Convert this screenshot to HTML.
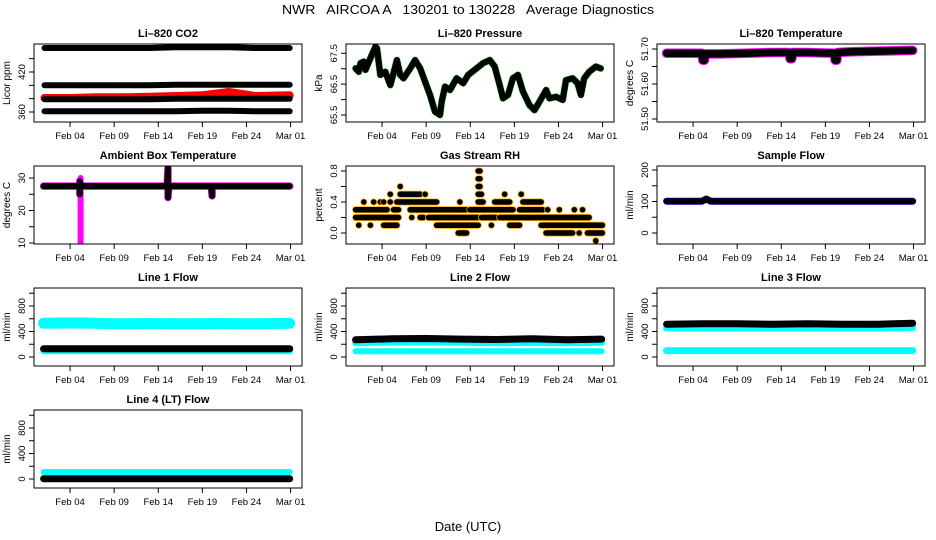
<!DOCTYPE html>
<html><head><meta charset="utf-8"><style>
body{margin:0;background:#fff}
svg{display:block;font-family:"Liberation Sans",sans-serif}
.pre{white-space:pre}
</style></head><body>
<svg id="c" width="936" height="540" viewBox="0 0 936 540">
<text class="pre" xml:space="preserve" x="468" y="14" font-size="13" text-anchor="middle" textLength="372" lengthAdjust="spacingAndGlyphs">NWR   AIRCOA A   130201 to 130228   Average Diagnostics</text>
<text x="468" y="531" font-size="13" text-anchor="middle">Date (UTC)</text>
</svg>
<script>
// ---- data ----
const dateTickDays = [3, 8, 13, 18, 23, 28];
const dateTickLabels = ["Feb 04", "Feb 09", "Feb 14", "Feb 19", "Feb 24", "Mar 01"];

const co2Days = [0.1, 3, 6, 9, 12, 15, 18, 21, 24, 27.9];
const co2Top = [456, 456, 456, 456, 456, 457, 457, 457, 456, 456];
const co2Mid = [400, 400, 400, 400, 400, 401, 401, 401, 401, 401];
const co2Red = [381, 381, 382, 382, 383, 384, 385, 390, 384, 385];
const co2Ref = [379, 379, 379, 379, 379, 380, 380, 380, 380, 380];
const co2Low = [361, 361, 361, 361, 361, 361, 362, 362, 361, 361];

const presDays = [0.0,0.36,0.55,0.93,1.12,1.68,2.24,2.43,2.8,3.37,3.93,4.3,4.68,5.06,5.43,6.19,6.75,7.32,7.88,8.44,9.0,9.57,9.76,10.14,10.7,11.45,12.2,12.77,13.71,14.46,15.21,15.77,16.34,16.71,17.28,17.84,18.4,18.97,19.72,20.28,20.85,21.6,21.97,22.73,23.48,23.85,24.6,25.17,25.54,25.92,26.48,27.23,27.79];
const presVals = [67.01,66.90,67.18,67.23,66.96,67.34,67.71,67.66,66.80,66.90,66.47,66.85,67.28,66.80,66.69,67.01,67.28,67.01,66.58,66.15,65.61,65.50,65.93,66.42,66.31,66.69,66.53,66.80,67.01,67.18,67.28,67.07,66.47,66.04,66.15,66.69,66.80,66.26,65.82,65.66,65.93,66.31,66.04,66.09,65.99,66.63,66.69,66.53,66.15,66.69,66.90,67.07,67.01];

const tempDays = [0,2,4,4.1,4.3,4.4,6,9,12,13.9,14.0,14.2,14.3,16,19,19.1,19.3,19.4,21,24,27.9];
const tempVals = [51.688,51.688,51.688,51.668,51.668,51.686,51.686,51.688,51.690,51.690,51.672,51.672,51.690,51.690,51.688,51.668,51.668,51.690,51.692,51.694,51.696];

const ambDays = [0,4.1,4.1,4.1,4.2,6,10,14,14.1,14.1,14.2,14.3,19,19.1,19.1,19.2,24,27.9];
const ambVals = [27.5,27.5,25,29,27.5,27.5,27.5,27.5,33,24,27.5,27.5,27.5,24.5,27.5,27.5,27.5,27.5];
const ambSpikeDays = [4.2, 4.2];
const ambSpikeVals = [10, 30];

const rhStart = [0.0,4.3,6.19,12.95,18.59,21.78,23.1,24.8,25.73, 0.0,6.37,7.32,8.25,14.27,16.34, 0.93,2.05,2.8,3.18,3.93,4.68,11.82,13.9,15.77,18.97, 3.93,5.06,7.88,13.9,16.9,18.78, 5.06,13.9, 13.9, 13.9, 0.36,1.68,3.18,9.19,15.4,17.47,21.04, 11.64,21.6,25.35,26.29, 27.23];
const rhEnd   = [3.56,4.87,12.58,17.84,21.22,21.78,23.1,24.8,25.73, 4.87,6.37,7.69,13.9,15.96,26.48, 0.93,2.05,2.8,3.18,3.93,9.19,11.82,14.46,17.47,21.04, 3.93,7.32,7.88,14.27,16.9,18.78, 5.06,14.1, 14.1, 14.1, 0.36,1.68,4.68,13.9,15.4,18.59,27.98, 12.58,24.6,25.35,27.98, 27.23];
const rhLevel = [0.3,0.3,0.3,0.3,0.3,0.3,0.3,0.3,0.3, 0.2,0.2,0.2,0.2,0.2,0.2, 0.4,0.4,0.4,0.4,0.4,0.4,0.4,0.4,0.4,0.4, 0.5,0.5,0.5,0.5,0.5,0.5, 0.6,0.6, 0.7, 0.8, 0.1,0.1,0.1,0.1,0.1,0.1,0.1, 0.0,0.0,0.0,0.0, -0.1];

const sampleDays = [0, 4, 4.5, 5, 27.9];
const sampleVals = [101, 101, 108, 101, 101];

const flowDays = [0, 4, 8, 12, 16, 20, 24, 27.9];
const line1Hi = [530, 535, 520, 525, 520, 525, 520, 530];
const line1Mid = [130, 130, 130, 130, 130, 130, 130, 130];
const line1Low = [100, 100, 100, 100, 100, 100, 100, 100];
const line2Black = [270, 285, 290, 280, 275, 285, 270, 280];
const line2Cyan = [225, 235, 240, 230, 225, 230, 225, 230];
const line2Low = [90, 90, 90, 90, 90, 90, 90, 90];
const line3Black = [515, 520, 520, 515, 520, 515, 515, 530];
const line3Cyan = [455, 455, 455, 455, 455, 455, 455, 465];
const line3Low = [100, 100, 100, 100, 100, 100, 100, 100];
const line4Cyan = [110, 110, 110, 110, 110, 110, 110, 110];
const line4Black = [5, 5, 5, 5, 5, 5, 5, 5];

// ---- layout ----
const NS = "http://www.w3.org/2000/svg";
const svg = document.getElementById("c");
const colL = [34, 346, 657], rowT = [44, 166, 288, 410], W = 268, H = 78;
function mk(tag, attrs, parent) {
  const e = document.createElementNS(NS, tag);
  for (const k in attrs) e.setAttribute(k, attrs[k]);
  (parent || svg).appendChild(e);
  return e;
}
function panel(key, col, row, title, ylab, ymin, ymax, ticks, labels) {
  const p = {L: colL[col], T: rowT[row], ymin, ymax};
  p.x = d => p.L + 9.6 + 8.82 * d;
  p.y = v => p.T + H - (v - ymin) / (ymax - ymin) * H;
  const g = mk("g", {});
  
  
  p.g = g;
  const cp = mk("clipPath", {id: "cp-" + key}, g);
  mk("rect", {x: p.L, y: p.T, width: W, height: H}, cp);
  p.data = mk("g", {"clip-path": "url(#cp-" + key + ")"}, g);
  
  
  const t = mk("text", {x: p.L + W / 2, y: p.T - 7, "font-size": 11, "font-weight": "bold", "text-anchor": "middle"}, g);
  t.textContent = title;
  
  
  const yl = mk("text", {transform: `translate(${p.L - 24},${p.T + H / 2}) rotate(-90)`, "font-size": 10, "text-anchor": "middle"}, g);
  yl.textContent = ylab;
  
  
  const box = mk("rect", {x: p.L, y: p.T, width: W, height: H, fill: "none", stroke: "#000", "stroke-width": 1}, g);
  
  
  dateTickDays.forEach((d, i) => {
    const x = p.x(d);
    mk("line", {x1: x, x2: x, y1: p.T + H, y2: p.T + H + 5, stroke: "#000"}, g);
    const tl = mk("text", {x: x, y: p.T + H + 17, "font-size": 9.5, "text-anchor": "middle"}, g);
    tl.textContent = dateTickLabels[i];
    
    
  });
  ticks.forEach((v, i) => {
    const y = p.y(v);
    mk("line", {x1: p.L - 5, x2: p.L, y1: y, y2: y, stroke: "#000"}, g);
    if (labels[i]) {
      const tl = mk("text", {transform: `translate(${p.L - 9},${y}) rotate(-90)`, "font-size": 9.5, "text-anchor": "middle"}, g);
      tl.textContent = labels[i];
      
      
    }
  });
  return p;
}
function line(p, days, vals, color, w, name) {
  const pts = days.map((d, i) => p.x(d).toFixed(1) + "," + p.y(vals[i]).toFixed(1)).join(" ");
  const e = mk("polyline", {points: pts, fill: "none", stroke: color, "stroke-width": w, "stroke-linejoin": "round", "stroke-linecap": "round"}, p.data);
  
  
  return e;
}

// Li-820 CO2
const pCO2 = panel("co2", 0, 0, "Li\u2013820 CO2", "Licor ppm", 345, 462, [360,380,400,420,440], ["360","","","420",""]);
line(pCO2, co2Days, co2Top, "#000", 6, "co2-band-high");
line(pCO2, co2Days, co2Mid, "#000", 6, "co2-band-mid");
line(pCO2, co2Days, co2Red, "#f00", 8, "co2-sample-red");
line(pCO2, co2Days, co2Ref, "#000", 6, "co2-band-ref");
line(pCO2, co2Days, co2Low, "#000", 6, "co2-band-low");

// Pressure
const pP = panel("pressure", 1, 0, "Li\u2013820 Pressure", "kPa", 65.273, 67.801, [65.5,66,66.5,67,67.5], ["65.5","","66.5","","67.5"]);
line(pP, presDays, presVals, "#0c0", 6.8, "pressure-line-green");
line(pP, presDays, presVals, "#000", 6, "pressure-line");

// Temperature
const pT = panel("temp", 2, 0, "Li\u2013820 Temperature", "degrees C", 51.4914, 51.7143, [51.5,51.55,51.6,51.65,51.7], ["51.50","","51.60","","51.70"]);
line(pT, tempDays, tempVals, "#f0f", 9.5, "temp-line-magenta");
line(pT, tempDays, tempVals, "#000", 7.5, "temp-line");

// Ambient
const pA = panel("ambient", 0, 1, "Ambient Box Temperature", "degrees C", 9.69, 33.69, [10,15,20,25,30], ["10","","20","","30"]);
line(pA, ambSpikeDays, ambSpikeVals, "#f0f", 6, "ambient-spike-magenta");
line(pA, ambDays, ambVals, "#f0f", 7.5, "ambient-line-magenta");
line(pA, ambDays, ambVals, "#000", 6, "ambient-line");

// Gas Stream RH
const pR = panel("rh", 1, 1, "Gas Stream RH", "percent", -0.142, 0.864, [0,0.2,0.4,0.6,0.8], ["0.0","","0.4","","0.8"]);
rhStart.forEach((s, i) => {
  const x1 = pR.x(s), x2 = pR.x(rhEnd[i]), y = pR.y(rhLevel[i]);
  const o = mk("line", {x1, x2, y1: y, y2: y, stroke: "#fa0", "stroke-width": 7, "stroke-linecap": "round"}, pR.data);
  
  
  const b = mk("line", {x1, x2, y1: y, y2: y, stroke: "#000", "stroke-width": 5.5, "stroke-linecap": "round"}, pR.data);
  
  
});

// Sample flow
const pS = panel("sample-flow", 2, 1, "Sample Flow", "ml/min", -34.9, 212.7, [0,50,100,150,200], ["0","","100","","200"]);
line(pS, sampleDays, sampleVals, "#00f", 7, "sample-flow-blue");
line(pS, sampleDays, sampleVals, "#000", 6, "sample-flow-line");

const fT = [0,200,400,600,800,1000], fL = ["0","","400","","800",""];
const p1 = panel("line1-flow", 0, 2, "Line 1 Flow", "ml/min", -141, 1082, fT, fL);
line(p1, flowDays, line1Hi, "#0ff", 11, "line1-flow-high");
line(p1, flowDays, line1Low, "#0ff", 7, "line1-flow-low");
line(p1, flowDays, line1Mid, "#000", 7, "line1-flow-black");
const p2 = panel("line2-flow", 1, 2, "Line 2 Flow", "ml/min", -141, 1082, fT, fL);
line(p2, flowDays, line2Cyan, "#0ff", 7, "line2-flow-cyan");
line(p2, flowDays, line2Black, "#000", 7, "line2-flow-black");
line(p2, flowDays, line2Low, "#0ff", 6, "line2-flow-low");
const p3 = panel("line3-flow", 2, 2, "Line 3 Flow", "ml/min", -141, 1082, fT, fL);
line(p3, flowDays, line3Cyan, "#0ff", 7, "line3-flow-cyan");
line(p3, flowDays, line3Black, "#000", 7, "line3-flow-black");
line(p3, flowDays, line3Low, "#0ff", 7, "line3-flow-low");
const p4 = panel("line4-flow", 0, 3, "Line 4 (LT) Flow", "ml/min", -141, 1082, fT, fL);
line(p4, flowDays, line4Cyan, "#0ff", 6, "line4-flow-cyan");
line(p4, flowDays, line4Black, "#000", 7, "line4-flow-black");
</script>
</body></html>
